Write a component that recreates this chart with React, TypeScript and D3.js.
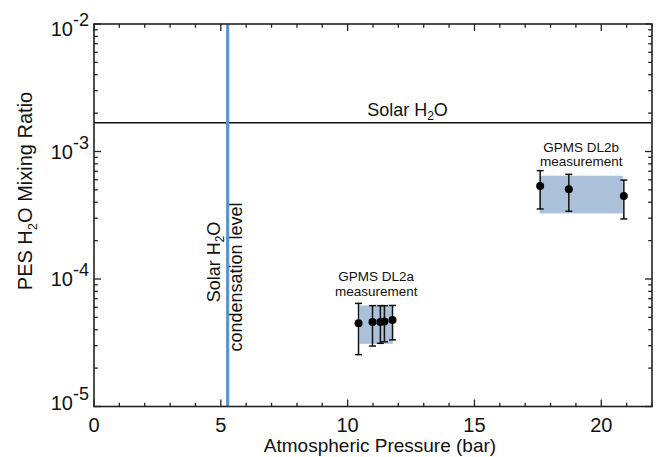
import React from "react";
import * as d3 from "d3";

// Pressure axis (bar) and mixing-ratio axis (log) extents
const xDomain: [number, number] = [0, 22];
const yDomain: [number, number] = [1e-5, 1e-2];
const xMajorTicks = [0, 5, 10, 15, 20];
const yMajorExponents = [-5, -4, -3, -2];

// Reference levels
const solarH2O = 1.68e-3;
const solarCondensationPressure = 5.27;

// GPMS DL2a measurements
const dl2aPressure = [10.43, 10.98, 11.29, 11.45, 11.77];
const dl2aRatio = [4.5e-5, 4.6e-5, 4.6e-5, 4.65e-5, 4.76e-5];
const dl2aLow = [2.55e-5, 2.98e-5, 3.13e-5, 3.22e-5, 3.33e-5];
const dl2aHigh = [6.44e-5, 6.18e-5, 6.18e-5, 6.18e-5, 6.2e-5];
const dl2aBandPressure: [number, number] = [10.47, 11.78];
const dl2aBandRatio: [number, number] = [3.1e-5, 6.2e-5];

// GPMS DL2b measurements
const dl2bPressure = [17.59, 18.72, 20.89];
const dl2bRatio = [5.36e-4, 5.05e-4, 4.48e-4];
const dl2bLow = [3.54e-4, 3.4e-4, 2.96e-4];
const dl2bHigh = [7.08e-4, 6.62e-4, 5.97e-4];
const dl2bBandPressure: [number, number] = [17.57, 20.85];
const dl2bBandRatio: [number, number] = [3.27e-4, 6.46e-4];

const W = 660;
const H = 457;
const margin = { left: 94, right: 8, top: 24, bottom: 50.5 };
const FONT = "'Liberation Sans', Arial, Helvetica, sans-serif";
const AXIS = "#222";
const INK = "#111";

export default function App() {
  const x = d3.scaleLinear().domain(xDomain).range([margin.left, W - margin.right]);
  const y = d3.scaleLog().domain(yDomain).range([H - margin.bottom, margin.top]);
  const [x0, x1] = x.range();
  const [y0, y1] = y.range(); // y0 bottom, y1 top

  const xMinor = d3.range(xDomain[0], xDomain[1] + 0.001, 1);
  const yAll: { v: number; major: boolean }[] = [];
  for (let e = -5; e < -2; e++) {
    for (let m = 1; m <= 9; m++) yAll.push({ v: m * Math.pow(10, e), major: m === 1 });
  }
  yAll.push({ v: 1e-2, major: true });

  const majorLen = 7;
  const minorLen = 3.8;

  const bands = [
    { p: dl2aBandPressure, r: dl2aBandRatio, label: "GPMS DL2a" },
    { p: dl2bBandPressure, r: dl2bBandRatio, label: "GPMS DL2b" },
  ];
  const series = [
    { p: dl2aPressure, r: dl2aRatio, lo: dl2aLow, hi: dl2aHigh },
    { p: dl2bPressure, r: dl2bRatio, lo: dl2bLow, hi: dl2bHigh },
  ];

  const xc = x(solarCondensationPressure);

  return (
    <svg
      width={W}
      height={H}
      style={{ position: "absolute", left: 0, top: 0, background: "#fff" }}
      fontFamily={FONT}
    >
      {/* measurement ranges */}
      {bands.map((b, i) => (
        <rect
          key={"band" + i}
          x={x(b.p[0])}
          y={y(b.r[1])}
          width={x(b.p[1]) - x(b.p[0])}
          height={y(b.r[0]) - y(b.r[1])}
          fill="#abc1d9"
        />
      ))}

      {/* solar abundance line */}
      <line x1={x0} x2={x1} y1={y(solarH2O)} y2={y(solarH2O)} stroke={INK} strokeWidth={1.3} />
      <text x={407.5} y={y(solarH2O) - 6.5} fontSize={18} textAnchor="middle" fill={INK}>
        Solar H<tspan fontSize={12} dy={4}>2</tspan>
        <tspan dy={-4}>O</tspan>
      </text>

      {/* condensation level */}
      <line x1={xc} x2={xc} y1={y1} y2={y0} stroke="#5b95cc" strokeWidth={3.2} />
      <text
        transform={`translate(${xc - 7.5},262) rotate(-90)`}
        fontSize={18}
        textAnchor="middle"
        fill={INK}
      >
        Solar H<tspan fontSize={12} dy={4}>2</tspan>
        <tspan dy={-4}>O</tspan>
      </text>
      <text
        transform={`translate(${xc + 14.5},277) rotate(-90)`}
        fontSize={18}
        textAnchor="middle"
        fill={INK}
      >
        condensation level
      </text>

      {/* error bars and points */}
      {series.map((s, si) =>
        s.p.map((p, i) => {
          const px = x(p);
          return (
            <g key={`pt${si}-${i}`}>
              <line x1={px} x2={px} y1={y(s.hi[i])} y2={y(s.lo[i])} stroke={INK} strokeWidth={1.5} />
              <line x1={px - 3.5} x2={px + 3.5} y1={y(s.hi[i])} y2={y(s.hi[i])} stroke={INK} strokeWidth={1.5} />
              <line x1={px - 3.5} x2={px + 3.5} y1={y(s.lo[i])} y2={y(s.lo[i])} stroke={INK} strokeWidth={1.5} />
              <circle cx={px} cy={y(s.r[i])} r={4} fill="#000" />
            </g>
          );
        })
      )}

      {/* measurement labels */}
      {bands.map((b, i) => {
        const cx = (x(b.p[0]) + x(b.p[1])) / 2;
        const top = y(b.r[1]);
        return (
          <g key={"lab" + i} fontSize={13.5} textAnchor="middle" fill={INK}>
            <text x={cx} y={top - 24}>{b.label}</text>
            <text x={cx} y={top - 9.5}>measurement</text>
          </g>
        );
      })}

      {/* frame */}
      <rect x={x0} y={y1} width={x1 - x0} height={y0 - y1} fill="none" stroke={AXIS} strokeWidth={1.6} />

      {/* x ticks, bottom and top */}
      {xMinor.map((v) => {
        const major = xMajorTicks.includes(Math.round(v)) && Math.abs(v - Math.round(v)) < 1e-6;
        const len = major ? majorLen : minorLen;
        return (
          <g key={"xt" + v} stroke={AXIS} strokeWidth={1.3}>
            <line x1={x(v)} x2={x(v)} y1={y0} y2={y0 - len} />
            <line x1={x(v)} x2={x(v)} y1={y1} y2={y1 + len} />
          </g>
        );
      })}
      {xMajorTicks.map((v) => (
        <text key={"xl" + v} x={x(v)} y={432} fontSize={20} textAnchor="middle" fill={INK}>
          {v}
        </text>
      ))}

      {/* y ticks, left and right */}
      {yAll.map((t) => {
        const len = t.major ? majorLen : minorLen;
        const py = y(t.v);
        return (
          <g key={"yt" + t.v} stroke={AXIS} strokeWidth={1.3}>
            <line x1={x0} x2={x0 + len} y1={py} y2={py} />
            <line x1={x1} x2={x1 - len} y1={py} y2={py} />
          </g>
        );
      })}
      {yMajorExponents.map((e) => {
        let py = y(Math.pow(10, e));
        if (e === -2) py += 5;
        if (e === -5) py -= 4;
        return (
          <text key={"yl" + e} x={89} y={py + 7} fontSize={20} textAnchor="end" fill={INK}>
            10<tspan fontSize={18} dy={-9.6}>{"-" + Math.abs(e)}</tspan>
          </text>
        );
      })}

      {/* axis titles */}
      <text x={380} y={452} fontSize={19} textAnchor="middle" fill={INK}>
        Atmospheric Pressure (bar)
      </text>
      <text transform="translate(32,191) rotate(-90)" fontSize={20} textAnchor="middle" fill={INK}>
        PES H<tspan fontSize={13} dy={4.5}>2</tspan>
        <tspan dy={-4.5}>O Mixing Ratio</tspan>
      </text>
    </svg>
  );
}
